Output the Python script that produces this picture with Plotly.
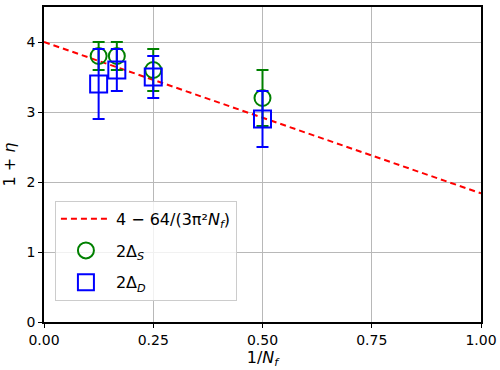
import plotly.graph_objects as go

# Data
x_pts = [1/8, 1/6, 1/4, 1/2]
s_vals = [3.8, 3.8, 3.6, 3.2]
s_errs = [0.2, 0.2, 0.3, 0.4]
d_vals = [3.4, 3.6, 3.5, 2.9]
d_errs = [0.5, 0.3, 0.3, 0.4]
line_x = [0.0, 1.0]
line_y = [4.0, 1.838]
x_ticks = [0, 0.25, 0.5, 0.75, 1.0]
x_tick_labels = ["0.00", "0.25", "0.50", "0.75", "1.00"]
y_ticks = [0, 1, 2, 3, 4]

fig = go.Figure()
fig.add_trace(go.Scatter(
    x=line_x, y=line_y, mode="lines", legendgroup="a",
    line=dict(color="#ff0000", width=2, dash="6px,4px"),
    name="4 − 64/(3π²<i>N</i><sub><i>f</i></sub>)",
))
fig.add_trace(go.Scatter(
    x=x_pts, y=s_vals, mode="markers", legendgroup="b",
    marker=dict(symbol="circle-open", size=16, color="#008000", line=dict(width=2)),
    error_y=dict(type="data", array=s_errs, color="#008000", thickness=2, width=6),
    name="2Δ<sub><i>S</i></sub>",
))
fig.add_trace(go.Scatter(
    x=x_pts, y=d_vals, mode="markers", legendgroup="c",
    marker=dict(symbol="square-open", size=17, color="#0000ff", line=dict(width=2)),
    error_y=dict(type="data", array=d_errs, color="#0000ff", thickness=2, width=6),
    name="2Δ<sub><i>D</i></sub>",
))

axis_common = dict(
    showline=True, linecolor="black", linewidth=1.5, mirror=True,
    ticks="outside", ticklen=4, tickwidth=1.2, tickcolor="black",
    showgrid=True, gridcolor="#b8b8b8", gridwidth=1, zeroline=False,
    tickfont=dict(family="DejaVu Sans", size=14, color="black"),
    automargin=False,
)
fig.update_xaxes(range=[0, 1], tickvals=x_ticks, ticktext=x_tick_labels,
                 title=dict(text="1/<i>N</i><sub><i>f</i></sub>", font=dict(family="DejaVu Sans", size=16, color="black"), standoff=2),
                 **axis_common)
fig.update_yaxes(range=[0, 4.5], tickvals=y_ticks,
                 title=dict(text="1 + <i>η</i>", font=dict(family="DejaVu Sans", size=16, color="black"), standoff=8),
                 **axis_common)

fig.update_layout(
    width=500, height=370,
    margin=dict(l=44, r=19, t=7, b=48),
    plot_bgcolor="white", paper_bgcolor="white",
    font=dict(family="DejaVu Sans", color="black"),
    legend=dict(x=0.025, y=0.385, xanchor="left", yanchor="top",
                bgcolor="rgba(255,255,255,0.8)", bordercolor="#cccccc", borderwidth=1,
                font=dict(family="DejaVu Sans", size=16, color="black"),
                itemwidth=50, tracegroupgap=8),
    showlegend=True,
)

fig.write_html("out.html", config={"displayModeBar": False},
               post_script="document.body.style.margin='0';document.body.style.padding='0';")
